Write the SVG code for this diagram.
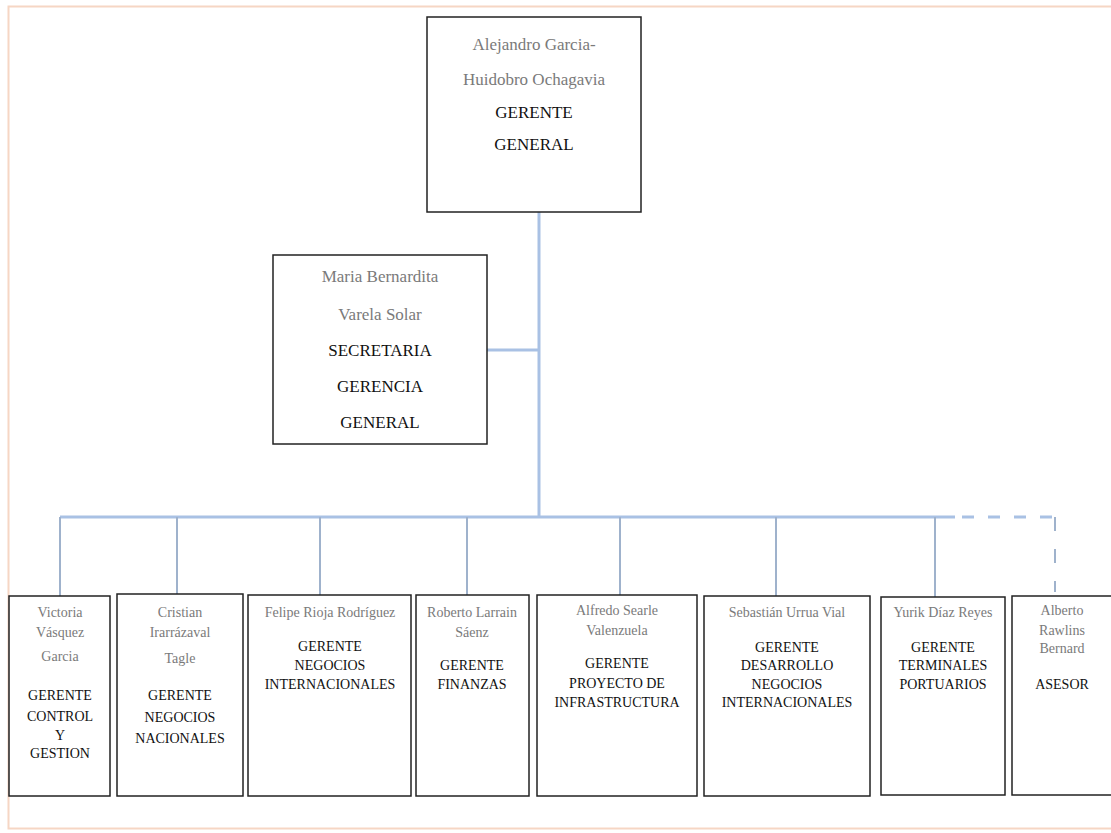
<svg xmlns="http://www.w3.org/2000/svg" width="1111" height="833" viewBox="0 0 1111 833">
<style>
.box{fill:#fff;stroke:#222;stroke-width:1.5}
.nm{font-family:"Liberation Serif","Times New Roman",serif;fill:#7a7a7a;text-anchor:middle}
.tt{font-family:"Liberation Serif","Times New Roman",serif;fill:#111;text-anchor:middle}
.big{font-size:17px}
.sm{font-size:14px}
.bar{stroke:#a9c1e4;stroke-width:3;fill:none}
.drop{stroke:#9fb2cc;stroke-width:2;fill:none}
</style>
<rect x="0" y="0" width="1111" height="833" fill="#fff"/>
<rect x="8.5" y="6.5" width="1110" height="822" fill="none" stroke="#f6d6c4" stroke-width="2"/>
<g id="connectors">
<line class="bar" x1="539" y1="212" x2="539" y2="517"/>
<line class="bar" x1="487" y1="350" x2="539" y2="350"/>
<line class="bar" x1="60" y1="517" x2="955" y2="517"/>
<line class="bar" x1="962" y1="517" x2="1057" y2="517" stroke-dasharray="12,14"/>
<line class="drop" x1="60" y1="517" x2="60" y2="596"/>
<line class="drop" x1="177" y1="517" x2="177" y2="594"/>
<line class="drop" x1="320" y1="517" x2="320" y2="595"/>
<line class="drop" x1="467" y1="517" x2="467" y2="595"/>
<line class="drop" x1="620" y1="517" x2="620" y2="595"/>
<line class="drop" x1="776" y1="517" x2="776" y2="596"/>
<line class="drop" x1="935" y1="517" x2="935" y2="597"/>
<line class="drop" x1="1055" y1="517" x2="1055" y2="592" stroke-dasharray="14,18"/>
</g>
<g id="gerente-general">
<rect class="box" x="427" y="17" width="214" height="195"/>
<text class="nm big" x="534" y="50">Alejandro Garcia-</text>
<text class="nm big" x="534" y="85">Huidobro Ochagavia</text>
<text class="tt big" x="534" y="118">GERENTE</text>
<text class="tt big" x="534" y="150">GENERAL</text>
</g>
<g id="secretaria">
<rect class="box" x="273" y="255" width="214" height="189"/>
<text class="nm big" x="380" y="282">Maria Bernardita</text>
<text class="nm big" x="380" y="320">Varela Solar</text>
<text class="tt big" x="380" y="356">SECRETARIA</text>
<text class="tt big" x="380" y="392">GERENCIA</text>
<text class="tt big" x="380" y="428">GENERAL</text>
</g>
<g id="control-gestion">
<rect class="box" x="9" y="596" width="101" height="200"/>
<text class="nm sm" x="60" y="617">Victoria</text>
<text class="nm sm" x="60" y="637">Vásquez</text>
<text class="nm sm" x="60" y="661">Garcia</text>
<text class="tt sm" x="60" y="700">GERENTE</text>
<text class="tt sm" x="60" y="721">CONTROL</text>
<text class="tt sm" x="60" y="740">Y</text>
<text class="tt sm" x="60" y="758">GESTION</text>
</g>
<g id="negocios-nacionales">
<rect class="box" x="117" y="594" width="126" height="202"/>
<text class="nm sm" x="180" y="617">Cristian</text>
<text class="nm sm" x="180" y="637">Irarrázaval</text>
<text class="nm sm" x="180" y="663">Tagle</text>
<text class="tt sm" x="180" y="700">GERENTE</text>
<text class="tt sm" x="180" y="722">NEGOCIOS</text>
<text class="tt sm" x="180" y="743">NACIONALES</text>
</g>
<g id="negocios-internacionales">
<rect class="box" x="248" y="595" width="163" height="201"/>
<text class="nm sm" x="330" y="617">Felipe Rioja Rodríguez</text>
<text class="tt sm" x="330" y="651">GERENTE</text>
<text class="tt sm" x="330" y="670">NEGOCIOS</text>
<text class="tt sm" x="330" y="689">INTERNACIONALES</text>
</g>
<g id="finanzas">
<rect class="box" x="416" y="595" width="113" height="201"/>
<text class="nm sm" x="472" y="617">Roberto Larrain</text>
<text class="nm sm" x="472" y="637">Sáenz</text>
<text class="tt sm" x="472" y="670">GERENTE</text>
<text class="tt sm" x="472" y="689">FINANZAS</text>
</g>
<g id="proyecto-infraestructura">
<rect class="box" x="537" y="595" width="160" height="201"/>
<text class="nm sm" x="617" y="615">Alfredo Searle</text>
<text class="nm sm" x="617" y="635">Valenzuela</text>
<text class="tt sm" x="617" y="668">GERENTE</text>
<text class="tt sm" x="617" y="688">PROYECTO DE</text>
<text class="tt sm" x="617" y="707">INFRASTRUCTURA</text>
</g>
<g id="desarrollo-negocios">
<rect class="box" x="704" y="596" width="166" height="200"/>
<text class="nm sm" x="787" y="617">Sebastián Urrua Vial</text>
<text class="tt sm" x="787" y="652">GERENTE</text>
<text class="tt sm" x="787" y="670">DESARROLLO</text>
<text class="tt sm" x="787" y="689">NEGOCIOS</text>
<text class="tt sm" x="787" y="707">INTERNACIONALES</text>
</g>
<g id="terminales-portuarios">
<rect class="box" x="881" y="597" width="124" height="198"/>
<text class="nm sm" x="943" y="617">Yurik Díaz Reyes</text>
<text class="tt sm" x="943" y="652">GERENTE</text>
<text class="tt sm" x="943" y="670">TERMINALES</text>
<text class="tt sm" x="943" y="689">PORTUARIOS</text>
</g>
<g id="asesor">
<rect class="box" x="1012" y="596" width="110" height="199"/>
<text class="nm sm" x="1062" y="615">Alberto</text>
<text class="nm sm" x="1062" y="635">Rawlins</text>
<text class="nm sm" x="1062" y="653">Bernard</text>
<text class="tt sm" x="1062" y="689">ASESOR</text>
</g>
</svg>
